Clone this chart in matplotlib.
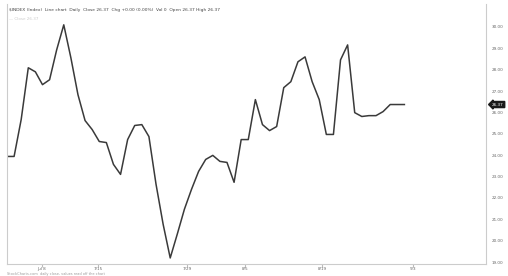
#!/usr/bin/env python3

import matplotlib
matplotlib.use("Agg")
import matplotlib.pyplot as plt

# daily closes
closes = [
    23.94, 23.94, 25.67, 28.09, 27.90, 27.30, 27.53, 28.93, 30.10, 28.56,
    26.83, 25.62, 25.20, 24.64, 24.59, 23.57, 23.10, 24.73, 25.39, 25.43,
    24.87, 22.64, 20.77, 19.19, 20.31, 21.47, 22.40, 23.24, 23.80, 23.99,
    23.71, 23.66, 22.73, 24.73, 24.73, 26.60, 25.43, 25.15, 25.34, 27.16,
    27.44, 28.37, 28.60, 27.44, 26.60, 24.97, 24.97, 28.46, 29.16, 25.99,
    25.81, 25.85, 25.85, 26.04, 26.37, 26.37, 26.37,
]
price_ticks = [19, 20, 21, 22, 23, 24, 25, 26, 27, 28, 29, 30]
date_pos = [4.9, 12.8, 25.4, 33.5, 44.4, 57.2]
date_labels = ["Jul 8", "7/15", "7/29", "8/5", "8/19", "9/3"]
title = "$INDEX (Index)  Line chart  Daily  Close 26.37  Chg +0.00 (0.00%)  Vol 0  Open 26.37 High 26.37"

fig = plt.figure(figsize=(5.08, 2.76), dpi=100)
ax = fig.add_axes([7 / 508, 12 / 276, 479 / 508, 260 / 276])

ax.plot(range(len(closes)), closes, color="#3a3a3a", lw=1.1)

ax.set_xlim(0, 67.5)
ax.set_ylim(19 - 2 / 21.45, 19 + 259 / 21.45)

ax.yaxis.tick_right()
ax.set_yticks(price_ticks)
ax.set_yticklabels(["%.2f" % v for v in price_ticks], fontsize=3, color="#666666")
ax.tick_params(axis="y", length=0, pad=4)
ax.set_xticks(date_pos)
ax.set_xticklabels(date_labels, fontsize=3, color="#666666")
ax.tick_params(axis="x", length=2, color="#bbbbbb", pad=0.5)

for side in ["left", "right", "bottom", "top"]:
    ax.spines[side].set_color("#cccccc")
    ax.spines[side].set_linewidth(0.8)
ax.spines["top"].set_visible(False)

ax.text(0.005, 0.985, title, transform=ax.transAxes, fontsize=3.2,
        color="#444444", va="top", ha="left")
ax.text(0.005, 0.95, "— Close 26.37", transform=ax.transAxes, fontsize=3,
        color="#cccccc", va="top", ha="left")
fig.text(7 / 508, 0.5 / 276, "StockCharts.com  daily close, values read off the chart",
         fontsize=2.5, color="#999999", ha="left", va="bottom")

# last price tag on the price axis
ax.annotate("%.2f" % closes[-1], xy=(1.0, closes[-1]), xycoords=("axes fraction", "data"),
            xytext=(8.5, 0), textcoords="offset points", fontsize=3, color="white",
            va="center", ha="center",
            bbox=dict(boxstyle="larrow,pad=0.25", fc="#1a1a1a", ec="#1a1a1a"),
            annotation_clip=False)

fig.savefig("out.png", dpi=100)
